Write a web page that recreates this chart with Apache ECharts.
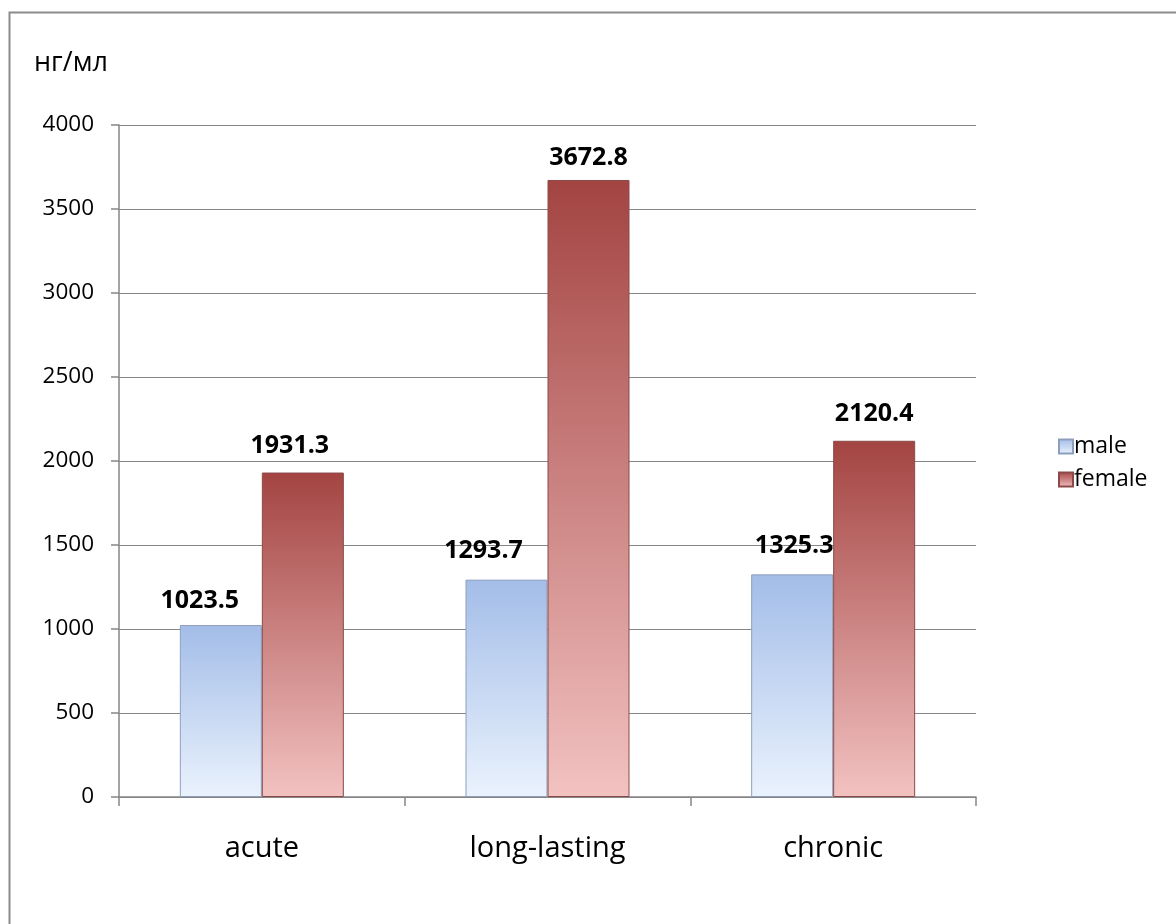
<!DOCTYPE html>
<html><head><meta charset="utf-8">
<script src="https://cdn.jsdelivr.net/npm/echarts@6/dist/echarts.min.js"></script>
<style>html,body{margin:0;padding:0;background:#fff}#c{width:1176px;height:924px}</style>
</head><body><div id="c"></div>
<script>
const categories = ['acute', 'long-lasting', 'chronic'];
const maleValues = [1023.5, 1293.7, 1325.3];
const femaleValues = [1931.3, 3672.8, 2120.4];
const yTicks = [0, 500, 1000, 1500, 2000, 2500, 3000, 3500, 4000];
const unitLabel = 'нг/мл';
const FONT = '"Open Sans", sans-serif';

// manual label nudges as in the original (Excel-placed labels)
const maleLabelNudge = [[-21, 0], [-23, -4], [2, -4]];
const femaleLabelNudge = [[-13, -2], [0, 2], [0, -2]];

const chart = echarts.init(document.getElementById('c'));
const grad = (top, bottom) => new echarts.graphic.LinearGradient(0, 0, 0, 1, [
  {offset: 0, color: top}, {offset: 1, color: bottom}
]);
const labelCfg = {show: true, position: 'top', distance: 12, fontFamily: FONT, fontWeight: 'bold',
  fontSize: 25, color: '#000', formatter: p => p.value.toFixed(1)};
const withNudge = (vals, nudges) => vals.map((v, i) => ({value: v, label: {offset: nudges[i]}}));
chart.setOption({
  animation: false,
  backgroundColor: '#fff',
  graphic: [
    {type: 'rect', shape: {x: 9.5, y: 12.5, width: 1300, height: 1100},
     style: {fill: 'none', stroke: '#8c8c8c', lineWidth: 2}},
    {type: 'text', left: 34, top: 50,
     style: {text: unitLabel, font: '27px ' + FONT, fill: '#000'}}
  ],
  grid: {left: 119, top: 125, right: 200, bottom: 127},
  legend: {
    orient: 'vertical', left: 1058, top: 435, padding: 0, itemWidth: 14, itemHeight: 14, itemGap: 10,
    icon: 'rect',
    textStyle: {fontFamily: FONT, fontSize: 23, color: '#000', padding: [0, 0, 0, -4]},
    data: ['male', 'female']
  },
  xAxis: {
    type: 'category', data: categories,
    axisLine: {lineStyle: {color: '#868686', width: 1.5}},
    axisTick: {show: true, length: 9, lineStyle: {color: '#868686', width: 1.5}},
    axisLabel: {fontFamily: FONT, fontSize: 29, color: '#000', margin: 37}
  },
  yAxis: {
    type: 'value', min: yTicks[0], max: yTicks[yTicks.length - 1], interval: 500,
    axisLine: {show: true, lineStyle: {color: '#868686', width: 1.5}},
    axisTick: {show: true, length: 8, lineStyle: {color: '#868686', width: 1.5}},
    splitLine: {lineStyle: {color: '#868686', width: 1.2}},
    axisLabel: {fontFamily: FONT, fontSize: 22.5, color: '#000', margin: 25,
                formatter: v => String(v)}
  },
  series: [
    {name: 'male', type: 'bar', data: withNudge(maleValues, maleLabelNudge), barWidth: 82, barGap: '0%',
     itemStyle: {color: grad('#a3bde8', '#eaf2fd'), borderColor: '#8e9fbd', borderWidth: 1},
     label: labelCfg},
    {name: 'female', type: 'bar', data: withNudge(femaleValues, femaleLabelNudge), barWidth: 82,
     itemStyle: {color: grad('#a34442', '#f2c2c1'), borderColor: '#8a4a4a', borderWidth: 1},
     label: labelCfg}
  ]
});
</script></body></html>
